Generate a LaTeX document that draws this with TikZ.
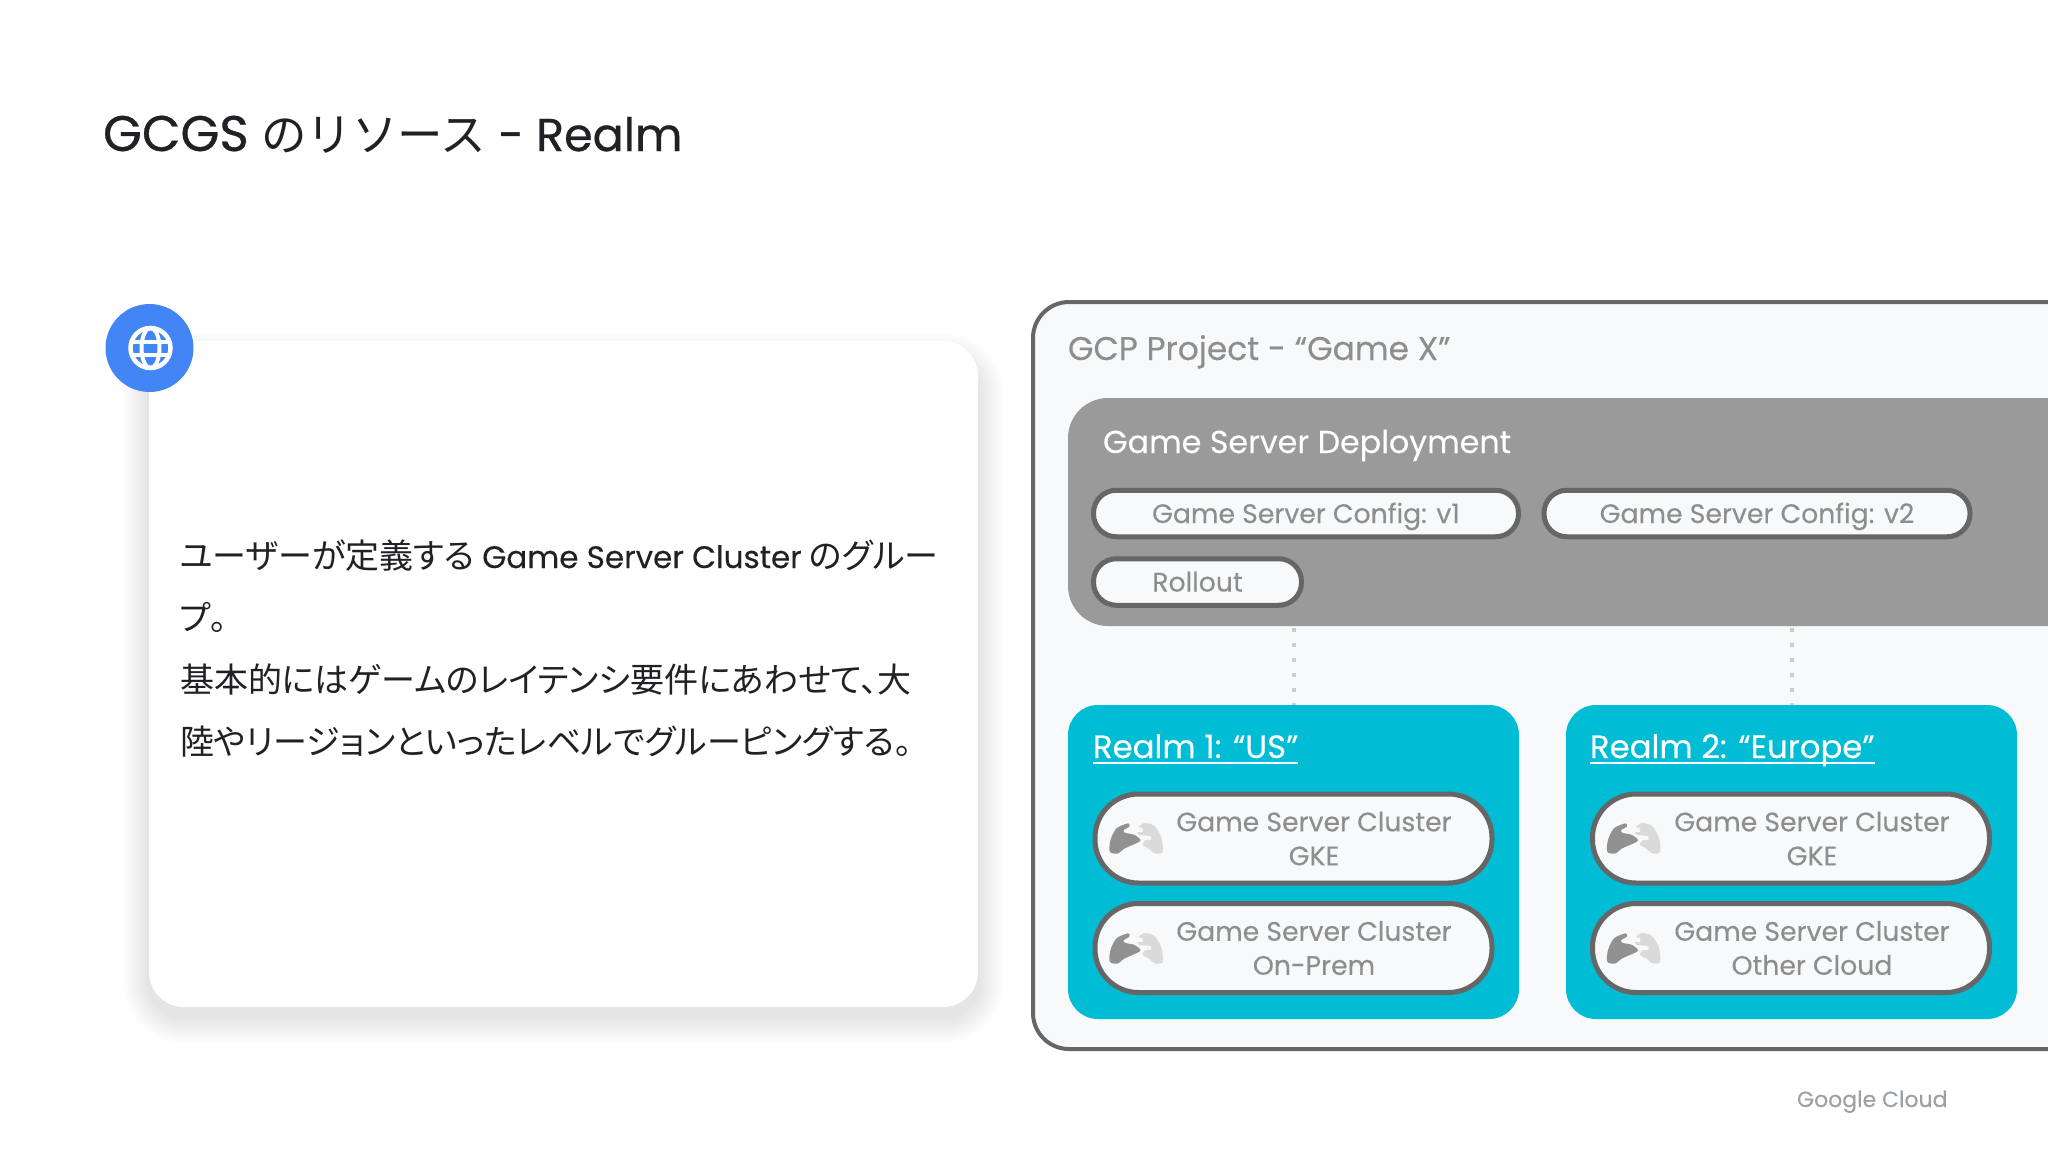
\documentclass[tikz,border=0pt]{standalone}
\usepackage{fontspec}
\setmainfont{Poppins}
\newfontfamily\cjk{Noto Sans CJK JP}
\newfontfamily\cjkp{Noto Sans CJK JP}[RawFeature=+palt]
\newfontfamily\headfont{Poppins}[FakeBold=0.6]
\newfontfamily\midfont{Poppins}[FakeBold=0.25]
\usetikzlibrary{calc}
\definecolor{inkdark}{HTML}{202124}
\definecolor{soft}{HTML}{8E8E8E}
\definecolor{edgegray}{HTML}{666666}
\definecolor{depgray}{HTML}{9A9A9A}
\definecolor{panel}{HTML}{F8F9FA}
\definecolor{realmblue}{HTML}{00BCD4}
\definecolor{googleblue}{HTML}{4285F4}
\definecolor{pad1}{HTML}{919191}
\definecolor{pad2}{HTML}{DADADA}
\definecolor{logo}{HTML}{9AA0A6}
\newcommand{\fs}[2][0]{\fontsize{#2}{\ifnum#1=0 #2\else #1\fi}\selectfont}
\tikzset{
  x=1pt,y=-1pt,
  txt/.style={inner sep=0pt,outer sep=0pt,anchor=base west},
  pill/.style={draw=edgegray,line width=5pt,fill=panel,inner sep=0pt,outer sep=0pt,minimum height=#1,rounded corners=0.49*#1},
  realm/.style={fill=realmblue,rounded corners=30pt,inner sep=0pt,outer sep=0pt,minimum width=451pt,minimum height=314pt},
  soft label/.style={text=soft,font=\fs[34]{26.7}\midfont,align=center,inner sep=0pt},
  pill label/.style={text=soft,font=\fs{26.7}\midfont,inner sep=0pt,anchor=base},
  dots/.style={draw=black!20,line width=4pt,dash pattern=on 4pt off 11pt},
  gamepad/.pic={
    \fill[pad2] plot[smooth cycle,tension=.5] coordinates{(8,-15)(18,-12)(25,0)(26,14)(19,15.5)(12,10.5)(6,6.5)(9,2)(14,2)(14,-2)(3,-3)(1,-6)(6,-6)(6,-10)(2,-11)};
    \fill[pad1] plot[smooth cycle,tension=.5] coordinates{(-8.3,-14.7)(-20,-9.7)(-26,2)(-26.7,13.7)(-19,15.5)(-12,10.5)(-3,6.5)(1.7,4.3)(4,2)(-1.7,-3)(-11.7,-5.3)(-12.7,-8)(-7.3,-11.3)};
  },
}
\begin{document}
\begin{tikzpicture}
\useasboundingbox (0,0) rectangle (2048,1152);
\fill[white] (0,0) rectangle (2048,1152);

% title
\node[txt,text=inkdark,font=\fs{46}\headfont] (title) at (103,151) {{\fs{50}GCGS} {\cjk\fs{45.5}のリソース} - Realm};

% card shadow
\foreach \e in {2,4,...,26}{
  \fill[black,opacity=.0085,rounded corners={(35+\e)*1pt}] (149-\e,359-\e) rectangle (978+\e,1017+\e);
}
\node[fill=white,rounded corners=35pt,inner sep=0pt,outer sep=0pt,minimum width=829pt,minimum height=666pt] (card) at (563.5,674) {};

% icon
\node[circle,fill=googleblue,minimum size=88pt,inner sep=0pt,outer sep=0pt] (badge) at (149.5,348) {};
\draw[white,line width=4.5pt] (150.5,348) circle[radius=20];
\draw[white,line width=4pt] (150.5,348) ellipse[x radius=9,y radius=20];
\draw[white,line width=4pt] (130.5,341.5) -- (170.5,341.5);
\draw[white,line width=4pt] (130.5,354.5) -- (170.5,354.5);

% body text
\begin{scope}[text=inkdark,font=\fs{34}\cjkp]
\node[txt] (l1) at (180,568) {ユーザーが定義する {\midfont\fs{31}Game Server Cluster} のグルー};
\node[txt] (l2) at (180,630) {プ。};
\node[txt] (l3) at (180,692) {基本的にはゲームのレイテンシ要件にあわせて、大};
\node[txt] (l4) at (180,754) {陸やリージョンといったレベルでグルーピングする。};
\end{scope}

% project frame
\draw[draw=edgegray,line width=4pt,fill=panel,rounded corners=36pt] (2048,302) -- (1033,302) -- (1033,1049) -- (2048,1049);
\node[txt,text=soft,font=\fs{32.8}\midfont] (proj) at (1068,360) {GCP Project - “Game X”};

% deployment
\fill[depgray,rounded corners=40pt] (2048,398) -- (1068,398) -- (1068,626) -- (2048,626);
\node[txt,text=white,font=\fs{31.7}\midfont] (dep) at (1103,453) {Game Server Deployment};
\node[pill=46.5pt,minimum width=425pt] (cfg1) at (1306,513.5) {};
\node[pill label] at ($(cfg1.center)+(0,9.5)$) {Game Server Config: v1};
\node[pill=46.5pt,minimum width=426pt] (cfg2) at (1757,513.5) {};
\node[pill label] at ($(cfg2.center)+(0,9.5)$) {Game Server Config: v2};
\node[pill=46.5pt,minimum width=208pt] (roll) at (1197.5,582) {};
\node[pill label] at ($(roll.center)+(0,9.5)$) {Rollout};

% realms
\node[realm] (r1) at (1293.5,862) {};
\node[realm] (r2) at (1791.5,862) {};
\coordinate (d1) at (r1.north |- 0,628);
\coordinate (d2) at (r2.north |- 0,628);
\draw[dots] (d1) -- (r1.north);
\draw[dots] (d2) -- (r2.north);

\node[txt,text=white,font=\fs{32.3}\midfont] (r1t) at (1093,758) {Realm 1: “US”};
\node[txt,text=white,font=\fs{32.3}\midfont] (r2t) at (1590,758) {Realm 2: “Europe”};
\draw[white,line width=2.5pt] ($(r1t.base west)+(0,5)$) -- ($(r1t.base east)+(0,5)$);
\draw[white,line width=2.5pt] ($(r2t.base west)+(0,5)$) -- ($(r2t.base east)+(0,5)$);

% clusters
\node[pill=89pt,minimum width=397pt] (c11) at (1293.5,838.5) {};
\node[pill=89pt,minimum width=397pt] (c12) at (1293.5,948) {};
\node[pill=89pt,minimum width=397pt] (c21) at (1791,838.5) {};
\node[pill=89pt,minimum width=397pt] (c22) at (1791,948) {};
\node[soft label] (c11t) at (1314,838.5) {Game Server Cluster\\GKE};
\node[soft label] (c12t) at (1314,948) {Game Server Cluster\\On-Prem};
\node[soft label] (c21t) at (1812,838.5) {Game Server Cluster\\GKE};
\node[soft label] (c22t) at (1812,948) {Game Server Cluster\\Other Cloud};
\path (1136.5,838) pic {gamepad};
\path (1136.5,948) pic {gamepad};
\path (1634,838) pic {gamepad};
\path (1634,948) pic {gamepad};

% footer
\node[txt,text=logo,font=\fs{22}\midfont] (gc) at (1797,1107) {Google Cloud};
\end{tikzpicture}
\end{document}
